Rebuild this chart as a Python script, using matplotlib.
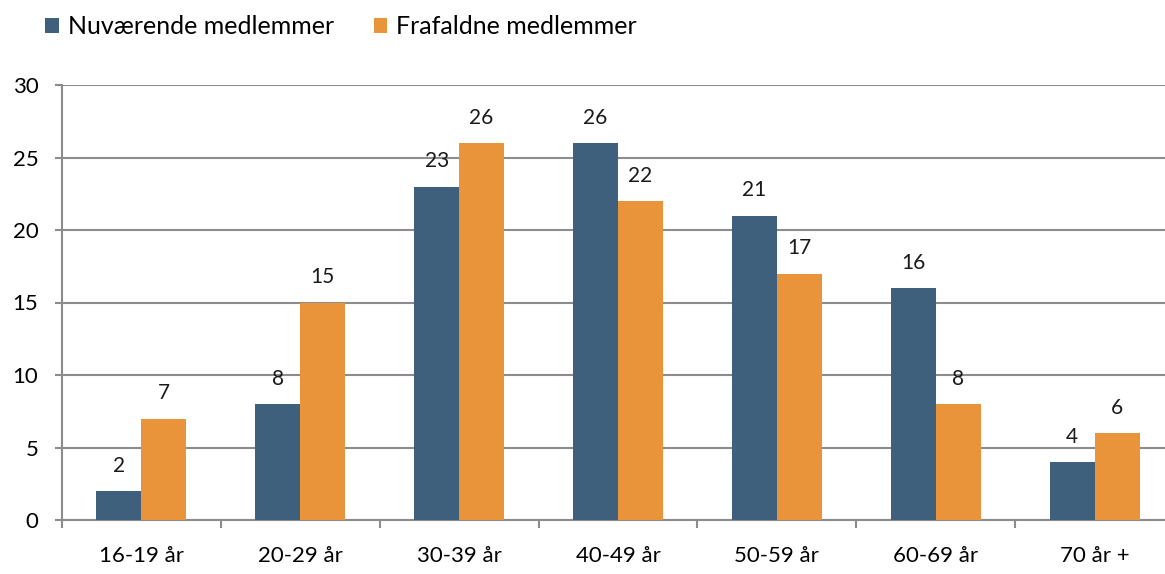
import numpy as np
import matplotlib.pyplot as plt

plt.rcParams['font.family'] = ['Lato', 'DejaVu Sans']

categories = ['16-19 år', '20-29 år', '30-39 år', '40-49 år', '50-59 år', '60-69 år', '70 år +']
current = [2, 8, 23, 26, 21, 16, 4]
dropped = [7, 15, 26, 22, 17, 8, 6]
series_names = ['Nuværende medlemmer', 'Frafaldne medlemmer']

blue = '#3F607D'
orange = '#E9943A'
grey = '#8C8C8C'

fig = plt.figure(figsize=(11.65, 5.74), dpi=100)
ax = fig.add_axes([62/1165, 1 - 520/574, 1112/1165, 435/574])

x = np.arange(len(categories))
w = 0.283
b1 = ax.bar(x - w/2, current, w, color=blue, label=series_names[0], zorder=3)
b2 = ax.bar(x + w/2, dropped, w, color=orange, label=series_names[1], zorder=3)

for bars, vals in [(b1, current), (b2, dropped)]:
    for rect, v in zip(bars, vals):
        ax.annotate(str(v), (rect.get_x() + rect.get_width()/2, v),
                    xytext=(0, 11), textcoords='offset points',
                    ha='center', va='bottom', fontsize=15, color='#1a1a1a')

ax.set_xlim(-0.5, 6.5)
ax.set_ylim(0, 30)
ax.set_yticks(range(0, 31, 5))
ax.yaxis.grid(True, color=grey, linewidth=1.5, zorder=0)
ax.set_axisbelow(True)

# boundaries get the tick marks, centers get the labels
ax.set_xticks(np.arange(-0.5, 7, 1))
ax.set_xticklabels([])
ax.set_xticks(x, minor=True)
ax.set_xticklabels(categories, minor=True, fontsize=16)
ax.tick_params(axis='x', which='major', length=6, width=1.5, color=grey)
ax.tick_params(axis='x', which='minor', length=0, pad=19)
ax.tick_params(axis='y', length=5, width=1.5, color=grey, pad=12, labelsize=16)

for s in ['top', 'right']:
    ax.spines[s].set_visible(False)
for s in ['left', 'bottom']:
    ax.spines[s].set_color(grey)
    ax.spines[s].set_linewidth(1.5)

ax.legend(loc='upper left', bbox_to_anchor=(30/1165, 1.0), bbox_transform=fig.transFigure,
          ncol=2, frameon=False, fontsize=18, handlelength=0.55, handleheight=0.55,
          handletextpad=0.35, columnspacing=1.6, borderaxespad=0.2)

fig.savefig('out.png', dpi=100)
